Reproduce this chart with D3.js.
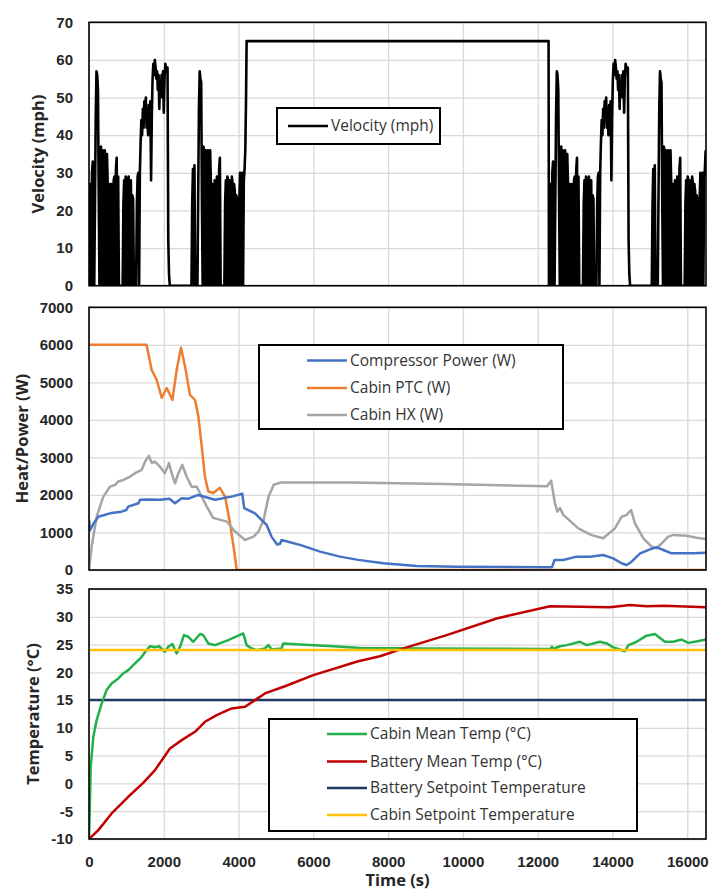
<!DOCTYPE html>
<html lang="en-US">
  <head>
    <meta charset="utf-8" />
    <title>Velocity, heat/power and temperature vs time</title>
    <script src="https://d3js.org/d3.v7.min.js"></script>
    <style>
      body { margin: 0; background: #fff; }
      svg { display: block; font-family: "Open Sans", Lato, sans-serif; }
      .ytick text, .xtick text { font-weight: bold; font-size: 15px; fill: #262626; }
      .grid line { stroke: #d9d9d9; stroke-width: 1.3; }
      .title { font-weight: bold; font-size: 16.5px; fill: #262626; }
      .legend text { font-size: 15.5px; fill: #333; }
    </style>
  </head>
  <body>
    <div id="chart"></div>
    <script>
      // ---- data ----
      var xTicks = [0, 2000, 4000, 6000, 8000, 10000, 12000, 14000, 16000];
      var velTicks = [0, 10, 20, 30, 40, 50, 60, 70];
      var powTicks = [0, 1000, 2000, 3000, 4000, 5000, 6000, 7000];
      var tempTicks = [-10, -5, 0, 5, 10, 15, 20, 25, 30, 35];

      // drive cycle speed (mph), one sample every 20 s; it is driven twice
      var cycleStep = 20;
      var cycleStarts = [0, 12310];
      var cycleSpeed = [
        0, 16, 27, 0, 30, 33, 0, 0, 22, 45,
        57, 56, 52, 24, 0, 36, 37, 0, 36, 35,
        0, 36, 34, 0, 35, 27, 0, 26, 27, 0,
        27, 26, 0, 28, 29, 0, 31, 34, 0, 29,
        0, 0, 0, 0, 0, 0, 22, 28, 0, 29,
        28, 0, 28, 29, 0, 27, 28, 0, 24, 23,
        0, 0, 0, 0, 22, 29, 30, 0, 30, 38,
        44, 40, 47, 42, 49, 45, 50, 42, 47, 40,
        48, 44, 49, 28, 45, 55, 59, 56, 60, 58,
        55, 57, 52, 56, 47, 54, 51, 56, 50, 57,
        46, 55, 59, 58, 57, 58, 12, 3, 0, 0,
        0, 0, 0, 0, 0, 0, 0, 0, 0, 0,
        0, 0, 0, 0, 0, 0, 0, 0, 0, 0,
        0, 0, 0, 0, 0, 0, 0, 0, 22, 31,
        0, 32, 0, 0, 0, 0, 24, 47, 57, 55,
        54, 22, 0, 37, 36, 0, 36, 35, 0, 36,
        34, 0, 36, 27, 0, 27, 26, 0, 28, 27,
        0, 29, 28, 0, 31, 34, 0, 0, 0, 0,
        0, 0, 22, 28, 0, 29, 28, 0, 28, 27,
        0, 29, 27, 0, 27, 25, 0, 24, 23, 0,
        0, 23, 30, 0, 29, 30, 0, 28, 31, 36
      ];
      // highway stretch between the two cycles [t, mph]
      var highway = [[4200, 50], [4215, 65], [12290, 65], [12300, 0]];

      var compressor = [[0, 1330], [30, 1060], [120, 1240], [250, 1420], [560, 1510], [870, 1555],
        [1000, 1600], [1050, 1690], [1320, 1780], [1365, 1870], [1630, 1880], [1900, 1870],
        [2150, 1900], [2300, 1780], [2480, 1910], [2660, 1900], [2920, 2000], [3370, 1870],
        [3810, 1955], [4100, 2030], [4150, 1650], [4440, 1510], [4620, 1330], [4750, 1200],
        [4880, 890], [5030, 680], [5110, 700], [5150, 800], [5640, 670], [6180, 490], [6710, 356],
        [7200, 270], [7870, 180], [8760, 107], [9830, 89], [12300, 71], [12380, 71], [12450, 267],
        [12680, 267], [13040, 356], [13400, 356], [13750, 400], [14020, 311], [14240, 180],
        [14380, 133], [14510, 222], [14740, 445], [15000, 550], [15180, 605], [15360, 533],
        [15580, 444], [16160, 444], [16500, 461]];
      var cabinPTC = [[0, 6000], [1540, 6000], [1675, 5330], [1810, 5070], [1945, 4590],
        [2080, 4850], [2230, 4530], [2345, 5330], [2460, 5920], [2570, 5420], [2700, 4670],
        [2835, 4530], [2925, 4090], [3015, 3290], [3100, 2490], [3190, 2090], [3325, 2050],
        [3500, 2190], [3640, 1950], [3770, 1250], [3880, 530], [3950, 0], [16500, 0]];
      var cabinHX = [[0, 0], [70, 620], [205, 1420], [380, 1950], [560, 2220], [700, 2270],
        [785, 2360], [920, 2400], [1100, 2490], [1230, 2580], [1410, 2670], [1500, 2890],
        [1600, 3040], [1680, 2850], [1765, 2890], [1900, 2750], [2030, 2580], [2140, 2850],
        [2210, 2580], [2300, 2310], [2390, 2580], [2495, 2800], [2610, 2490], [2745, 2220],
        [2880, 2220], [2970, 2045], [3150, 1690], [3320, 1390], [3690, 1290], [3860, 1070],
        [4170, 800], [4400, 890], [4530, 1020], [4670, 1330], [4800, 1950], [4940, 2270],
        [5130, 2330], [7000, 2330], [9500, 2290], [12250, 2230], [12360, 2380], [12460, 1780],
        [12525, 1555], [12595, 1650], [12685, 1470], [13085, 1110], [13440, 930], [13750, 845],
        [14065, 1110], [14245, 1420], [14380, 1470], [14495, 1600], [14600, 1245], [14825, 845],
        [15045, 620], [15180, 580], [15315, 710], [15490, 890], [15625, 935], [15980, 915],
        [16250, 860], [16500, 825]];

      var cabinTemp = [[0, -10], [20, -5], [45, 3], [116, 8.4], [205, 11.4], [340, 14.4],
        [470, 16.8], [605, 18], [785, 18.9], [915, 19.8], [1050, 20.4], [1230, 21.6],
        [1410, 22.8], [1540, 24], [1630, 24.7], [1765, 24.5], [1870, 24.7], [2030, 23.7],
        [2120, 24.6], [2230, 25.1], [2345, 23.4], [2435, 24.6], [2540, 26.7], [2655, 26.4],
        [2790, 25.5], [2970, 26.9], [3055, 26.7], [3190, 25.2], [3370, 24.9], [3725, 25.8],
        [4125, 27], [4215, 24.9], [4350, 24.3], [4485, 24], [4705, 24.3], [4795, 24.9],
        [4885, 24.1], [5150, 24.3], [5195, 25.2], [5640, 25], [6530, 24.7], [7250, 24.4],
        [9000, 24.3], [12330, 24.2], [12380, 24.6], [12410, 24.2], [12595, 24.7], [12775, 24.9],
        [13130, 25.5], [13310, 24.9], [13665, 25.5], [13845, 25.2], [14020, 24.5], [14335, 23.8],
        [14425, 24.9], [14645, 25.5], [14910, 26.6], [15135, 26.9], [15400, 25.5], [15625, 25.5],
        [15850, 25.9], [16025, 25.3], [16340, 25.7], [16500, 25.9]];
      var batteryTemp = [[0, -10], [250, -8.4], [605, -5.4], [1050, -2.4], [1450, 0.1],
        [1765, 2.4], [2165, 6.3], [2480, 7.8], [2835, 9.3], [3100, 11.1], [3415, 12.3],
        [3815, 13.5], [4170, 13.8], [4440, 15], [4705, 16.2], [5240, 17.5], [6000, 19.5],
        [7200, 22], [7780, 22.9], [8495, 24.5], [9565, 26.7], [10900, 29.7], [12330, 31.9],
        [13130, 31.8], [13930, 31.7], [14470, 32.1], [14910, 31.9], [15360, 32], [16500, 31.7]];
      var batterySetpoint = [[0, 15], [16500, 15]];
      var cabinSetpoint = [[0, 24], [16500, 24]];

      // ---- build the velocity trace from the cycle + highway ----
      var velocity = [];
      cycleSpeed.forEach(function (v, i) {
        velocity.push([cycleStarts[0] + i * cycleStep, v]);
      });
      highway.forEach(function (p) { velocity.push(p); });
      cycleSpeed.forEach(function (v, i) {
        var t = cycleStarts[1] + i * cycleStep;
        if (t <= 16500) velocity.push([t, v]);
      });

      // plain integer labels with an ASCII minus, like the original
      var plain = function (d) { return String(d); };

      // ---- layout ----
      var width = 711, height = 890;
      var left = 89, right = 706;

      var svg = d3.select("#chart").append("svg")
        .attr("width", width)
        .attr("height", height);

      var x = d3.scaleLinear().domain([0, 16500]).range([left, right]);

      var panels = [
        { id: "vel", top: 22.3, bottom: 285.7, domain: [0, 70], ticks: velTicks,
          title: "Velocity (mph)", titleX: 38,
          series: [{ data: velocity, color: "#000000", width: 2.6 }] },
        { id: "pow", top: 307.3, bottom: 570, domain: [0, 7000], ticks: powTicks,
          title: "Heat/Power (W)", titleX: 22,
          series: [
            { data: cabinPTC, color: "#ED7D31", width: 2.5 },
            { data: cabinHX, color: "#A5A5A5", width: 2.5 },
            { data: compressor, color: "#4472C4", width: 2.5 }
          ] },
        { id: "temp", top: 589, bottom: 839, domain: [-10, 35], ticks: tempTicks,
          title: "Temperature (\u00B0C)", titleX: 33,
          series: [
            { data: batterySetpoint, color: "#203864", width: 2.5 },
            { data: cabinTemp, color: "#22B04B", width: 2.5 },
            { data: batteryTemp, color: "#C00000", width: 2.5 },
            { data: cabinSetpoint, color: "#FFC000", width: 2.5 }
          ] }
      ];

      panels.forEach(function (p) {
        var y = d3.scaleLinear().domain(p.domain).range([p.bottom, p.top]);
        p.y = y;

        // gridlines
        svg.append("g")
          .attr("class", "grid")
          .attr("transform", "translate(" + left + ",0)")
          .call(d3.axisLeft(y).tickValues(p.ticks).tickSize(-(right - left)).tickFormat(""))
          .call(function (g) { g.select(".domain").remove(); });
        svg.append("g")
          .attr("class", "grid")
          .attr("transform", "translate(0," + p.bottom + ")")
          .call(d3.axisBottom(x).tickValues(xTicks).tickSize(-(p.bottom - p.top)).tickFormat(""))
          .call(function (g) { g.select(".domain").remove(); });

        // clip + series
        svg.append("clipPath").attr("id", "clip-" + p.id)
          .append("rect")
          .attr("x", left).attr("y", p.top)
          .attr("width", right - left).attr("height", p.bottom - p.top);

        var line = d3.line()
          .x(function (d) { return x(d[0]); })
          .y(function (d) { return y(d[1]); });

        svg.append("g")
          .attr("clip-path", "url(#clip-" + p.id + ")")
          .selectAll("path")
          .data(p.series)
          .enter()
          .append("path")
          .attr("d", function (s) { return line(s.data); })
          .attr("fill", "none")
          .attr("stroke", function (s) { return s.color; })
          .attr("stroke-width", function (s) { return s.width; })
          .attr("stroke-linejoin", "round");

        // frame
        svg.append("rect")
          .attr("x", left).attr("y", p.top)
          .attr("width", right - left).attr("height", p.bottom - p.top)
          .attr("fill", "none")
          .attr("stroke", "#000")
          .attr("stroke-width", 1.6);

        // y tick labels
        svg.append("g")
          .attr("class", "ytick")
          .attr("transform", "translate(" + left + ",0)")
          .call(d3.axisLeft(y).tickValues(p.ticks).tickSize(0).tickPadding(16).tickFormat(plain))
          .call(function (g) { g.select(".domain").remove(); });

        // y title
        svg.append("text")
          .attr("class", "title")
          .attr("transform", "translate(" + p.titleX + "," + (p.top + p.bottom) / 2 + ") rotate(-90)")
          .attr("text-anchor", "middle")
          .attr("dy", "0.35em")
          .text(p.title);
      });

      // x tick labels and title (bottom panel only)
      svg.append("g")
        .attr("class", "xtick")
        .attr("transform", "translate(0,839)")
        .call(d3.axisBottom(x).tickValues(xTicks).tickSize(0).tickPadding(17).tickFormat(plain))
        .call(function (g) { g.select(".domain").remove(); });

      svg.append("text")
        .attr("class", "title")
        .attr("x", (left + right) / 2)
        .attr("y", 886)
        .attr("text-anchor", "middle")
        .text("Time (s)");

      // ---- legends ----
      var legends = [
        { x: 277, y: 108, w: 163, h: 36, lineX: 288, textX: 331, rowY: [126],
          items: [{ label: "Velocity (mph)", color: "#000000" }] },
        { x: 259, y: 345, w: 304, h: 84, lineX: 307, textX: 350, rowY: [360.5, 388, 415],
          items: [
            { label: "Compressor Power (W)", color: "#4472C4" },
            { label: "Cabin PTC (W)", color: "#ED7D31" },
            { label: "Cabin HX (W)", color: "#A5A5A5" }
          ] },
        { x: 269, y: 719, w: 368, h: 112, lineX: 327, textX: 370, rowY: [734, 761.5, 788, 815],
          items: [
            { label: "Cabin Mean Temp (\u00B0C)", color: "#22B04B" },
            { label: "Battery Mean Temp (\u00B0C)", color: "#C00000" },
            { label: "Battery Setpoint Temperature", color: "#203864" },
            { label: "Cabin Setpoint Temperature", color: "#FFC000" }
          ] }
      ];

      legends.forEach(function (L) {
        var g = svg.append("g").attr("class", "legend");
        g.append("rect")
          .attr("x", L.x).attr("y", L.y)
          .attr("width", L.w).attr("height", L.h)
          .attr("fill", "#fff")
          .attr("stroke", "#000")
          .attr("stroke-width", 2);
        var rows = g.selectAll(".key")
          .data(L.items)
          .enter()
          .append("g")
          .attr("class", "key");
        rows.append("line")
          .attr("x1", L.lineX).attr("x2", L.textX - 3)
          .attr("y1", function (d, i) { return L.rowY[i]; })
          .attr("y2", function (d, i) { return L.rowY[i]; })
          .attr("stroke", function (d) { return d.color; })
          .attr("stroke-width", 2.5);
        rows.append("text")
          .attr("x", L.textX)
          .attr("y", function (d, i) { return L.rowY[i]; })
          .attr("dy", "0.35em")
          .text(function (d) { return d.label; });
      });
    </script>
  </body>
</html>
